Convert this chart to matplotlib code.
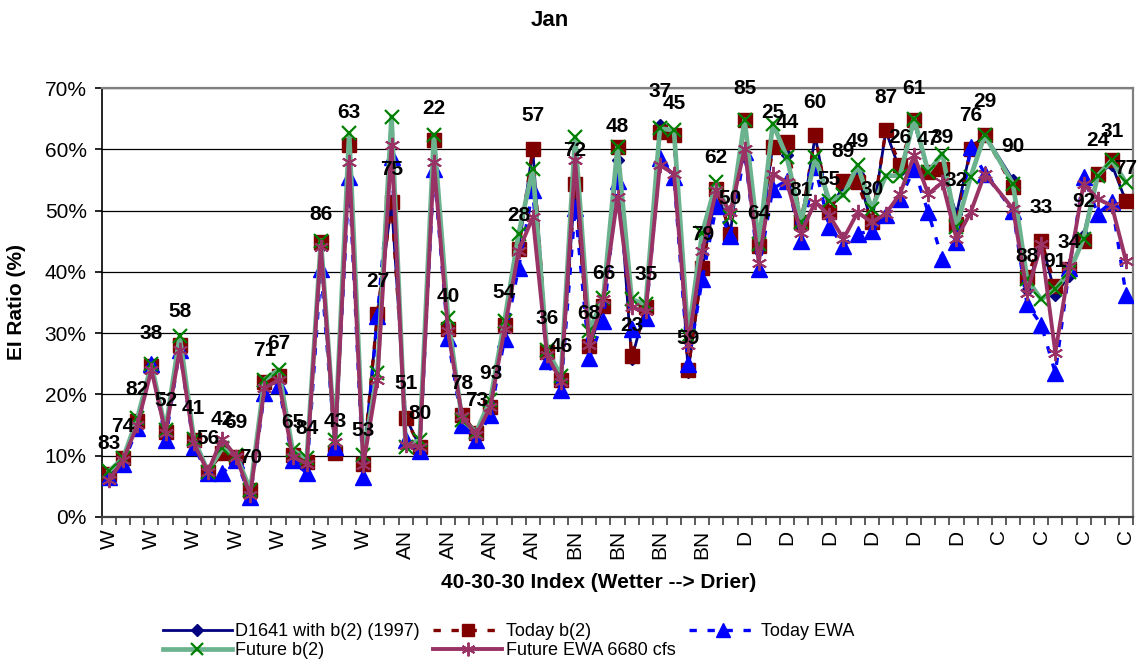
import numpy as np
import matplotlib
matplotlib.use("Agg")
import matplotlib.pyplot as plt
from matplotlib.ticker import FuncFormatter, FixedLocator

plt.rcParams['font.family'] = ['Liberation Sans', 'DejaVu Sans']

nan = np.nan

# ---- data (values in %) ----
years = [83, 74, 82, 38, 52, 58, 41, 56, 42, 69,
         70, 71, 67, 65, 84, 86, 43, 63, 53, 27,
         75, 51, 80, 22, 40, 78, 73, 93, 54, 28,
         57, 36, 46, 72, 68, 66, 48, 23, 35, 37,
         45, 59, 79, 62, 50, 85, 64, 25, 44, 81,
         60, 55, 89, 49, 30, 87, 26, 61, 47, 39,
         32, 76, 29, None, 90, 88, 33, 91, 34, 92,
         24, 31, 77]

year_type_labels = ["W", "W", "W", "W", "W", "W", "W",
                    "AN", "AN", "AN", "AN",
                    "BN", "BN", "BN", "BN",
                    "D", "D", "D", "D", "D", "D",
                    "C", "C", "C", "C"]

d1641_b2 = [6.5, 9.3, 15.3, 24.5, 13.6, 28.1, 12.2, 7.4, 10.5, 9.9,
            4.2, 21.7, 22.9, 10.0, 9.0, 44.0, 10.2, 60.5, 8.6, 33.0,
            51.3, 16.3, 11.5, 61.2, 30.5, 16.3, 13.6, 18.0, 31.2, 43.7,
            60.0, 27.0, 22.4, 54.3, 27.8, 34.3, 58.3, 25.8, 34.2, 64.0,
            62.1, 23.7, 40.6, 53.3, 46.5, 64.4, 44.1, 60.6, 59.0, 47.8,
            62.2, 49.7, 54.2, 55.9, 48.0, 63.0, 56.5, 64.4, 56.2, 56.5,
            49.4, 60.0, 62.4, nan, 55.0, 37.0, 45.1, 36.3, 39.4, 46.0,
            56.0, 57.5, 51.5]

today_b2 = [7.0, 9.6, 15.6, 24.6, 13.9, 28.1, 12.6, 7.4, 10.4, 9.8,
            4.4, 22.1, 23.0, 10.1, 9.0, 44.8, 10.4, 60.7, 8.7, 33.1,
            51.4, 16.1, 11.5, 61.5, 30.6, 16.7, 13.7, 18.0, 31.4, 43.7,
            60.1, 27.0, 22.4, 54.4, 27.9, 34.4, 60.4, 26.2, 34.2, 62.8,
            62.3, 24.0, 40.7, 53.6, 46.2, 64.8, 44.3, 60.4, 61.2, 48.1,
            62.3, 49.7, 54.9, 54.6, 48.1, 63.1, 57.4, 64.8, 56.3, 56.8,
            47.8, 60.1, 62.3, nan, 53.8, 39.1, 45.1, 37.7, 40.4, 45.1,
            56.0, 58.2, 51.6]

today_ewa = [6.5, 8.7, 14.5, 24.9, 12.6, 27.3, 11.5, 7.1, 7.1, 9.3,
             3.3, 20.2, 21.6, 9.3, 7.1, 40.4, 11.5, 55.5, 6.6, 32.8,
             58.7, 12.6, 10.7, 56.8, 29.2, 15.0, 12.6, 16.7, 29.0, 40.7,
             53.3, 25.4, 20.8, 50.5, 26.0, 32.0, 54.9, 30.6, 32.5, 58.5,
             55.5, 24.9, 38.8, 50.8, 45.9, 59.6, 40.4, 53.6, 54.9, 45.1,
             57.1, 47.3, 44.3, 46.2, 46.7, 49.2, 51.9, 56.8, 49.7, 42.1,
             44.8, 60.4, 56.0, nan, 50.0, 34.7, 31.4, 23.5, 40.7, 55.5,
             49.5, 51.4, 36.3]

future_b2 = [7.5, 9.6, 16.1, 24.9, 14.2, 29.5, 12.8, 7.4, 11.2, 10.1,
             4.4, 22.4, 24.0, 10.9, 9.6, 45.1, 12.6, 62.6, 10.1, 23.5,
             65.3, 11.5, 12.6, 62.3, 32.5, 15.8, 13.9, 19.1, 32.0, 46.2,
             56.8, 27.3, 23.0, 62.0, 30.3, 35.8, 60.4, 35.5, 34.7, 63.4,
             63.1, 29.5, 46.4, 54.6, 48.9, 64.8, 44.5, 64.2, 58.7, 48.1,
             58.7, 51.6, 52.5, 57.4, 50.3, 55.7, 55.7, 65.0, 56.3, 59.3,
             47.3, 55.5, 62.3, nan, 54.4, 38.8, 35.5, 37.2, 40.0, 45.4,
             55.7, 58.2, 54.6]

future_ewa = [6.0, 9.3, 15.0, 24.0, 13.7, 27.3, 12.0, 7.4, 12.8, 9.8,
              3.6, 21.0, 22.4, 9.8, 8.7, 44.0, 12.3, 57.9, 8.5, 22.4,
              60.7, 11.7, 11.5, 57.9, 30.3, 16.4, 13.4, 18.0, 30.6, 43.4,
              48.9, 26.5, 22.1, 58.2, 28.1, 35.5, 52.2, 34.2, 33.6, 57.4,
              56.0, 28.1, 43.4, 53.3, 49.7, 60.1, 41.5, 56.0, 54.6, 46.4,
              51.4, 49.2, 45.4, 49.7, 48.1, 49.5, 52.7, 59.0, 52.7, 54.6,
              45.4, 49.7, 56.0, nan, 50.3, 36.6, 44.5, 26.8, 41.0, 54.4,
              51.9, 50.8, 41.8]

series_names = ["D1641 with b(2) (1997)", "Today b(2)", "Today EWA",
                "Future b(2)", "Future EWA 6680 cfs"]

# ---- figure ----
W, H = 1139, 664
fig = plt.figure(figsize=(W / 100, H / 100), dpi=100)
ax = fig.add_axes([102 / W, 1 - 517 / H, (1133 - 102) / W, (517 - 88) / H])

n = len(years)
x = np.arange(n)


def draw(vals, **kw):
    v = np.asarray(vals, dtype=float)
    m = ~np.isnan(v)
    return ax.plot(x[m], v[m], **kw)[0]


ast = (6, 2, 0)
h1 = draw(d1641_b2, color='#000080', lw=2.0, marker='D', ms=6.5,
          mfc='#000080', mec='#000080', label=series_names[0], zorder=3)
h2 = draw(today_b2, color='#800000', lw=2.4, dashes=(2.2, 3.2), marker='s',
          ms=10, mfc='#800000', mec='#800000', label=series_names[1], zorder=4)
h3 = draw(today_ewa, color='#0000FF', lw=2.4, dashes=(2.2, 3.2), marker='^',
          ms=11, mfc='#0000FF', mec='#0000FF', label=series_names[2], zorder=5)
h4 = draw(future_b2, color='#6BB38E', lw=3.4, marker='x', ms=10, mew=1.6,
          mfc='#008000', mec='#008000', label=series_names[3], zorder=6)
h5 = draw(future_ewa, color='#993366', lw=2.8, marker=ast, ms=11, mew=1.4,
          mfc='#993366', mec='#993366', label=series_names[4], zorder=7)

# year data labels above D1641 points
for i, (yr, v) in enumerate(zip(years, d1641_b2)):
    if yr is None or np.isnan(v):
        continue
    ax.annotate(f"{yr}", (x[i], v), xytext=(0, 24), textcoords='offset points',
                ha='center', va='center', fontsize=15, fontweight='bold',
                color='black', zorder=10, annotation_clip=False)

# axes
ax.set_xlim(-0.5, n - 0.5)
ax.set_ylim(0, 70)
ax.set_yticks(np.arange(0, 71, 10))
ax.yaxis.set_major_formatter(FuncFormatter(lambda v, p: f"{int(round(v))}%"))
ax.yaxis.grid(True, color='black', lw=0.9)
ax.set_axisbelow(True)

label_pos = np.arange(0, n, 3)
ax.set_xticks(label_pos)
ax.set_xticklabels(year_type_labels, rotation=90, fontsize=15, va='top')
ax.xaxis.set_minor_locator(FixedLocator(np.arange(-0.5, n, 1.0)))
ax.tick_params(axis='x', which='major', length=0, pad=9)
ax.tick_params(axis='x', which='minor', length=6, width=1.2, direction='out', color='#404040')
ax.tick_params(axis='y', which='major', length=5, width=1.2, direction='out',
               labelsize=15, pad=6)

for s in ['top', 'right']:
    ax.spines[s].set_color('#808080')
    ax.spines[s].set_linewidth(1.6)
ax.spines['left'].set_color('black')
ax.spines['left'].set_linewidth(1.2)
ax.spines['bottom'].set_color('#404040')
ax.spines['bottom'].set_linewidth(1.6)

# texts
fig.text(550 / W, 1 - 20 / H, "Jan", ha='center', va='center',
         fontsize=16, fontweight='bold')
fig.text(17 / W, 1 - 302 / H, "EI Ratio (%)", rotation=90, ha='center',
         va='center', fontsize=15, fontweight='bold')
fig.text(599 / W, 1 - 582 / H, "40-30-30 Index (Wetter --> Drier)",
         ha='center', va='center', fontsize=15, fontweight='bold')

# legend (row-major order like Excel: reorder for column-major filling)
handles = [h1, h4, h2, h5, h3]
fig.legend(handles=handles, labels=[h.get_label() for h in handles],
           ncol=3, loc='upper left', bbox_to_anchor=(163 / W, 1 - 623 / H),
           frameon=False, fontsize=13, handlelength=3.8, handletextpad=0.2,
           columnspacing=0.75, labelspacing=0.12, borderpad=0.0,
           borderaxespad=0.0, markerscale=0.9)

fig.savefig("out.png", dpi=100)
